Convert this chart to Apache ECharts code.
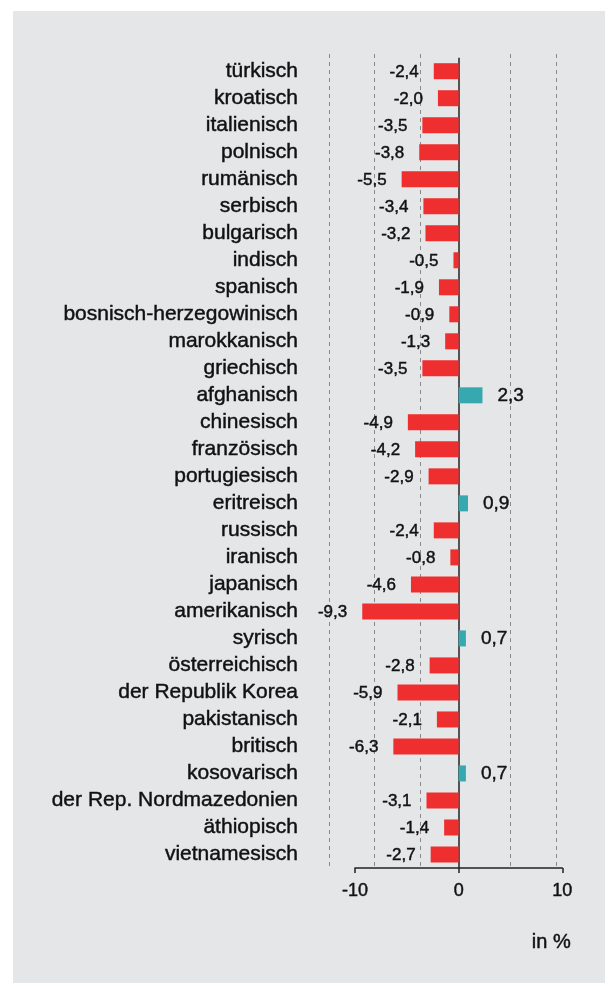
<!DOCTYPE html>
<html>
<head>
<meta charset="utf-8">
<script src="https://cdn.jsdelivr.net/npm/echarts@6/dist/echarts.min.js"></script>
<style>
  html, body { margin: 0; padding: 0; background: #ffffff; }
  #bg { position: absolute; left: 13px; top: 11px; width: 592px; height: 972px; background: #e5e6e8; }
  #chart { position: absolute; left: 0; top: 0; width: 605px; height: 983px; }
</style>
</head>
<body>
<div id="bg"></div>
<div id="chart"></div>
<script>
const categories = [
  "türkisch", "kroatisch", "italienisch", "polnisch", "rumänisch", "serbisch",
  "bulgarisch", "indisch", "spanisch", "bosnisch-herzegowinisch", "marokkanisch",
  "griechisch", "afghanisch", "chinesisch", "französisch", "portugiesisch",
  "eritreisch", "russisch", "iranisch", "japanisch", "amerikanisch", "syrisch",
  "österreichisch", "der Republik Korea", "pakistanisch", "britisch",
  "kosovarisch", "der Rep. Nordmazedonien", "äthiopisch", "vietnamesisch"
];
const values = [
  -2.4, -2.0, -3.5, -3.8, -5.5, -3.4,
  -3.2, -0.5, -1.9, -0.9, -1.3,
  -3.5, 2.3, -4.9, -4.2, -2.9,
  0.9, -2.4, -0.8, -4.6, -9.3, 0.7,
  -2.8, -5.9, -2.1, -6.3,
  0.7, -3.1, -1.4, -2.7
];
const xTicks = { min: -10, max: 10, interval: 10 };
const unitLabel = "in %";

const RED = "#ee2e2f";
const TEAL = "#36a8b0";
const FONT = "'Liberation Sans', Arial, sans-serif";
const INK = "#111111";
const HEAVY = { textBorderColor: INK, textBorderWidth: 0.45 };

const fmt = v => v.toFixed(1).replace(".", ",");

const barData = values.map(v => ({
  value: v,
  itemStyle: { color: v < 0 ? RED : TEAL },
  label: {
    position: v < 0 ? "left" : "right",
    fontSize: v < 0 ? 17 : 19,
    offset: v < 0 ? [0, 1] : [0, 0]
  }
}));

const chart = echarts.init(document.getElementById("chart"), null, { renderer: "canvas" });
chart.setOption({
  backgroundColor: "transparent",
  animation: false,
  textStyle: { fontFamily: FONT },
  grid: [
    { left: 355, width: 207.3, top: 57.7, bottom: 115, containLabel: false },
    { left: 329.3, width: 226.5, top: 54, bottom: 117, containLabel: false }
  ],
  xAxis: [
    {
      type: "value", gridIndex: 0,
      min: xTicks.min, max: xTicks.max, interval: xTicks.interval,
      axisLine: { show: true, onZero: false, lineStyle: { color: "#222", width: 1.5 } },
      axisTick: { show: true, length: 5, lineStyle: { color: "#222", width: 1.5 } },
      axisLabel: Object.assign({ fontSize: 18, color: INK, margin: 14, fontFamily: FONT }, HEAVY),
      splitLine: { show: true, lineStyle: { color: ["rgba(0,0,0,0)", "#222", "rgba(0,0,0,0)"], width: 1.5 } }
    },
    {
      type: "value", gridIndex: 1,
      min: 0, max: 5, interval: 1,
      axisLine: { show: false }, axisTick: { show: false }, axisLabel: { show: false },
      splitLine: { show: true, lineStyle: { color: ["#8a8a8a", "#8a8a8a", "#8a8a8a", "rgba(0,0,0,0)", "#8a8a8a", "#8a8a8a"], width: 1, type: [4, 4] } }
    }
  ],
  yAxis: [
    {
      type: "category", gridIndex: 0, inverse: true, data: categories,
      axisLine: { show: false, onZero: false }, axisTick: { show: false },
      axisLabel: Object.assign({ interval: 0, fontSize: 21, color: INK, margin: 57, fontFamily: FONT }, HEAVY),
      splitLine: { show: false }
    },
    {
      type: "value", gridIndex: 1, min: 0, max: 1, show: false,
      splitLine: { show: false }
    }
  ],
  series: [
    {
      type: "bar", xAxisIndex: 0, yAxisIndex: 0,
      data: barData, barWidth: 16,
      label: Object.assign({
        show: true, distance: 15, color: INK, fontFamily: FONT,
        formatter: p => fmt(p.value)
      }, HEAVY)
    }
  ],
  graphic: [
    {
      type: "text", right: 34, top: 932,
      style: { text: unitLabel, font: "20px " + FONT, fill: INK, stroke: INK, lineWidth: 0.45 }
    }
  ]
});
</script>
</body>
</html>
